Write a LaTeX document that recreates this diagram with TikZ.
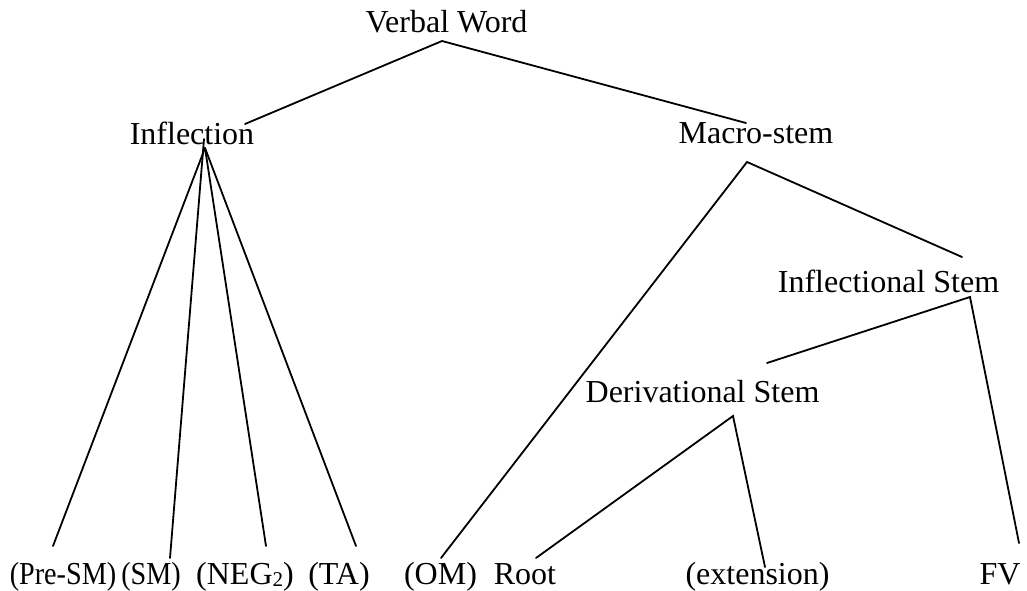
\documentclass[tikz,border=0pt]{standalone}
\usepackage{fontspec}
\setmainfont{Liberation Serif}
\begin{document}
\begin{tikzpicture}[x=1pt,y=-1pt,
  lbl/.style={anchor=base,inner sep=0pt,outer sep=0pt,
    font=\fontsize{32}{36}\selectfont},
  branch/.style={line width=1.8pt,line cap=round,line join=miter}]
\useasboundingbox (0,0) rectangle (1027,591);

% labels
\node[lbl] (vw)   at (446.5,33) {Verbal Word};
\node[lbl] (infl) at (192,144)  {Inflection};
\node[lbl] (ms)   at (756,143)  {Macro-stem};
\node[lbl] (is)   at (888.5,292) {Inflectional Stem};
\node[lbl] (ds)   at (702.5,402) {Derivational Stem};

\node[lbl] (presm) at (63,584)    {\scalebox{0.88}[1]{(Pre-SM)}};
\node[lbl] (sm)    at (151,584)   {\scalebox{0.88}[1]{(SM)}};
\node[lbl] (neg)   at (245,584)   {(NEG{\fontsize{21}{21}\selectfont\raisebox{-2pt}{2}})};
\node[lbl] (ta)    at (339,584)   {(TA)};
\node[lbl] (om)    at (440.5,584) {(OM)};
\node[lbl] (root)  at (525,584)   {Root};
\node[lbl] (ext)   at (757.5,584) {(extension)};
\node[lbl] (fv)    at (1000,584)  {FV};

% branch points under each mother label
\coordinate (vw-j)   at (442,41);
\coordinate (infl-j) at (205,148);
\coordinate (infl-t) at (204,139);
\coordinate (ms-j)   at (747,162);
\coordinate (is-j)   at (970,297);
\coordinate (ds-j)   at (733,416);

% ends of the branches above each daughter
\coordinate (infl-e)  at (245,124);
\coordinate (ms-e)    at (746,123);
\coordinate (is-e)    at (962,257);
\coordinate (ds-e)    at (767,363);
\coordinate (presm-e) at (53,546);
\coordinate (sm-e)    at (170,558);
\coordinate (neg-e)   at (266,546);
\coordinate (ta-e)    at (356,546);
\coordinate (om-e)    at (441,558);
\coordinate (root-e)  at (536,558);
\coordinate (ext-e)   at (765,567);
\coordinate (fv-e)    at (1019,543);

% branches
\draw[branch] (infl-e) -- (vw-j) -- (ms-e);
\draw[branch] (infl-j) -- (presm-e);
\draw[branch] (infl-t) -- (sm-e);
\draw[branch] (infl-j) -- (neg-e);
\draw[branch] (infl-j) -- (ta-e);
\draw[branch] (om-e) -- (ms-j) -- (is-e);
\draw[branch] (ds-e) -- (is-j) -- (fv-e);
\draw[branch] (root-e) -- (ds-j) -- (ext-e);
\end{tikzpicture}
\end{document}
